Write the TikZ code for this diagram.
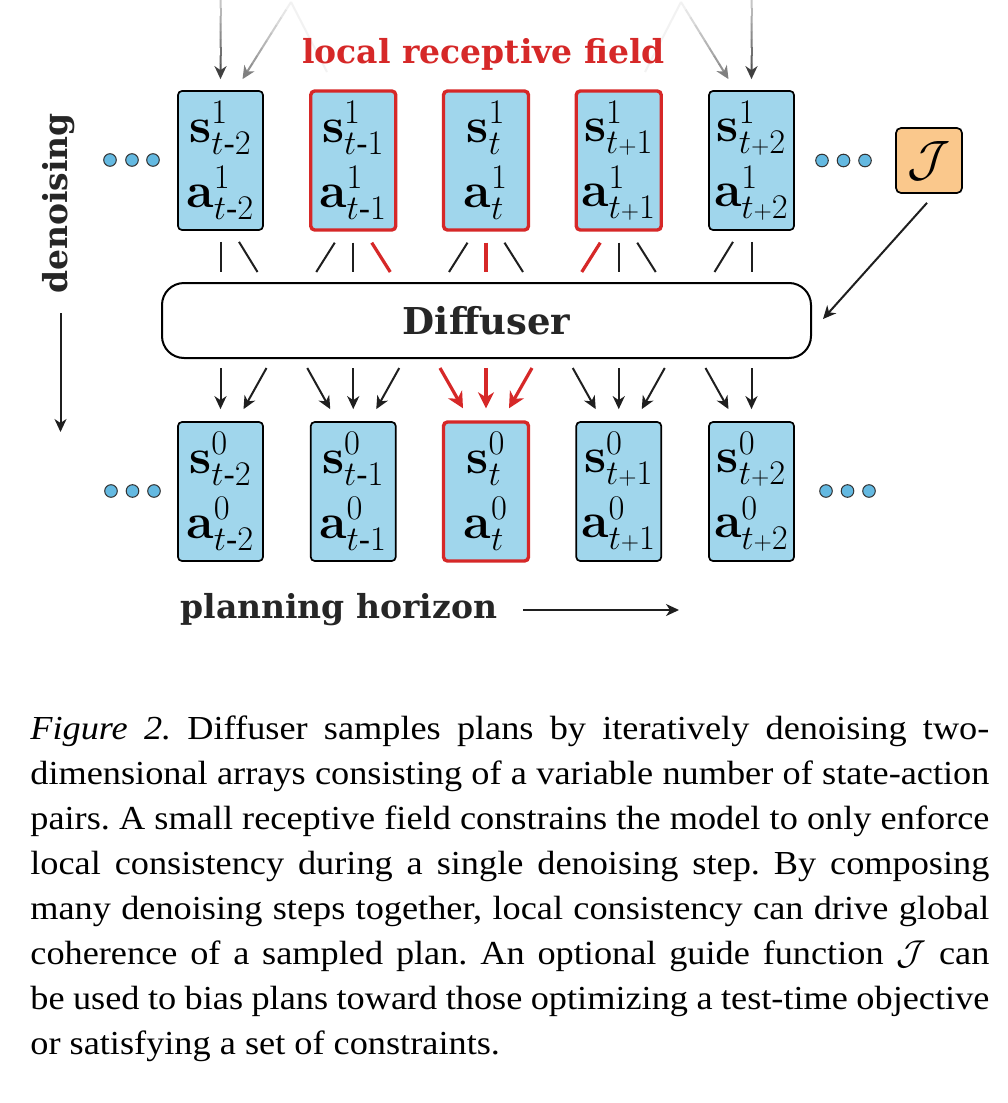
\documentclass[tikz,border=0pt]{standalone}
\usepackage{amsmath}
\usepackage[no-math]{fontspec}
\setmainfont{Liberation Serif}
\newfontfamily\capfont[FakeStretch=1.08]{Liberation Serif}
\newfontfamily\lblfont{DejaVu Serif}
\usetikzlibrary{arrows.meta,calc}
\definecolor{boxblue}{RGB}{160,214,236}
\definecolor{redc}{RGB}{214,40,40}
\definecolor{jorange}{RGB}{250,200,140}
\definecolor{dotblue}{RGB}{100,185,225}
\newcommand\fadearrow[4]{%
  \foreach \k in {0,...,8}{%
    \pgfmathsetmacro\fa{\k/10}%
    \pgfmathsetmacro\fb{(\k+1)/10+0.005}%
    \pgfmathsetmacro\fc{#3+(#4-#3)*(\k+0.5)/10}%
    \draw[line width=1pt, draw=black!\fc] ($(#1)!\fa!(#2)$) -- ($(#1)!\fb!(#2)$);%
  }%
  \draw[line width=1pt, draw=black!#4, -{Stealth[length=6.5pt,width=6pt,inset=2pt]}] ($(#1)!0.9!(#2)$) -- (#2);%
}
\begin{document}
\begin{tikzpicture}[x=0.5pt,y=-0.5pt,
  cell/.style={draw=black, line width=0.85pt, fill=boxblue, rounded corners=2pt,
    minimum width=42.5pt, minimum height=69.5pt, inner sep=0pt, align=center,
    font=\fontsize{24}{32.5}\selectfont},
  redcell/.style={draw=redc, line width=1.7pt},
  dot/.style={circle, draw=black!80, line width=0.5pt, fill=dotblue, minimum size=6.3pt, inner sep=0pt},
  lbl/.style={font=\lblfont\bfseries\fontsize{16.5}{20}\selectfont, text=black!85, inner sep=0pt},
  ln/.style={line width=1pt, draw=black!88},
  redln/.style={line width=1.6pt, draw=redc},
  arr/.style={line width=1pt, draw=black!88, -{Stealth[length=6.5pt,width=6pt,inset=2pt]}},
  redarr/.style={line width=1.6pt, draw=redc, -{Stealth[length=8pt,width=8pt,inset=2.5pt]}},
  capline/.style={anchor=base west, inner sep=0pt, font=\capfont\frenchspacing\fontsize{16.8}{22.5}\selectfont}
]
\fill[white] (0,0) rectangle (1007,1103);
\useasboundingbox (0,0) rectangle (1007,1103);

% ---------- top row (denoising step 1)
\node[cell] (t1) at (220.5,160.5) {$\mathbf{s}^{1}_{t\text{-}2}$\\$\mathbf{a}^{1}_{t\text{-}2}$};
\node[cell,redcell] (t2) at (353.25,160.5) {$\mathbf{s}^{1}_{t\text{-}1}$\\$\mathbf{a}^{1}_{t\text{-}1}$};
\node[cell,redcell] (t3) at (486,160.5) {$\mathbf{s}^{1}_{t}$\\$\mathbf{a}^{1}_{t}$};
\node[cell,redcell] (t4) at (618.75,160.5) {$\mathbf{s}^{1}_{t{\scriptscriptstyle+}1}$\\$\mathbf{a}^{1}_{t{\scriptscriptstyle+}1}$};
\node[cell] (t5) at (751.5,160.5) {$\mathbf{s}^{1}_{t{\scriptscriptstyle+}2}$\\$\mathbf{a}^{1}_{t{\scriptscriptstyle+}2}$};

% ---------- bottom row (step 0)
\node[cell] (b1) at (220.5,491.5) {$\mathbf{s}^{0}_{t\text{-}2}$\\$\mathbf{a}^{0}_{t\text{-}2}$};
\node[cell] (b2) at (353.25,491.5) {$\mathbf{s}^{0}_{t\text{-}1}$\\$\mathbf{a}^{0}_{t\text{-}1}$};
\node[cell,redcell] (b3) at (486,491.5) {$\mathbf{s}^{0}_{t}$\\$\mathbf{a}^{0}_{t}$};
\node[cell] (b4) at (618.75,491.5) {$\mathbf{s}^{0}_{t{\scriptscriptstyle+}1}$\\$\mathbf{a}^{0}_{t{\scriptscriptstyle+}1}$};
\node[cell] (b5) at (751.5,491.5) {$\mathbf{s}^{0}_{t{\scriptscriptstyle+}2}$\\$\mathbf{a}^{0}_{t{\scriptscriptstyle+}2}$};

% ---------- dots
\node[dot] (dtl1) at (110,160) {};
\node[dot] (dtl2) at (132,160) {};
\node[dot] (dtl3) at (153,160) {};
\node[dot] (dtr1) at (822,160.5) {};
\node[dot] (dtr2) at (843.5,160.5) {};
\node[dot] (dtr3) at (865,160.5) {};
\node[dot] (dbl1) at (111,491) {};
\node[dot] (dbl2) at (132.5,491) {};
\node[dot] (dbl3) at (154,491) {};
\node[dot] (dbr1) at (826,491) {};
\node[dot] (dbr2) at (847.5,491) {};
\node[dot] (dbr3) at (869,491) {};

% ---------- guide J
\node[draw=black, line width=0.85pt, fill=jorange, rounded corners=2.5pt,
  minimum width=33pt, minimum height=32.5pt, inner sep=0pt,
  font=\fontsize{24}{28}\selectfont] (J) at (929,160.5) {$\mathcal{J}$};

% ---------- Diffuser
\node[draw=black, line width=1pt, rounded corners=11pt, minimum width=324.5pt,
  minimum height=37.5pt, inner sep=0pt,
  font=\lblfont\bfseries\fontsize{18.5}{22}\selectfont, text=black!85] (D) at (486.5,320.5) {Diffuser};

\draw[arr] ($(J.south)+(-2,9)$) -- ($(D.east)+(11,-1.5)$);

% ---------- lines from top row into Diffuser
\draw[ln] ($(t1.south)+(0,11)$) -- ($(t1.south |- D.north)+(0,-10)$);
\draw[ln] ($(t1.south)+(18.5,11)$) -- ($(t1.south |- D.north)+(37,-10)$);
\draw[ln] ($(t2.south)+(-18.5,11)$) -- ($(t2.south |- D.north)+(-37,-10)$);
\draw[ln] ($(t2.south)+(0,11)$) -- ($(t2.south |- D.north)+(0,-10)$);
\draw[redln] ($(t2.south)+(18.5,11)$) -- ($(t2.south |- D.north)+(37,-10)$);
\draw[ln] ($(t3.south)+(-18.5,11)$) -- ($(t3.south |- D.north)+(-37,-10)$);
\draw[redln] ($(t3.south)+(0,11)$) -- ($(t3.south |- D.north)+(0,-10)$);
\draw[ln] ($(t3.south)+(18.5,11)$) -- ($(t3.south |- D.north)+(37,-10)$);
\draw[redln] ($(t4.south)+(-18.5,11)$) -- ($(t4.south |- D.north)+(-37,-10)$);
\draw[ln] ($(t4.south)+(0,11)$) -- ($(t4.south |- D.north)+(0,-10)$);
\draw[ln] ($(t4.south)+(18.5,11)$) -- ($(t4.south |- D.north)+(37,-10)$);
\draw[ln] ($(t5.south)+(-18.5,11)$) -- ($(t5.south |- D.north)+(-37,-10)$);
\draw[ln] ($(t5.south)+(0,11)$) -- ($(t5.south |- D.north)+(0,-10)$);

% ---------- arrows from Diffuser to bottom row
\draw[arr] ($(b1.north |- D.south)+(0,9)$) -- ($(b1.north)+(0,-12)$);
\draw[arr] ($(b1.north |- D.south)+(46,9)$) -- ($(b1.north)+(23,-12)$);
\draw[arr] ($(b2.north |- D.south)+(-46,9)$) -- ($(b2.north)+(-23,-12)$);
\draw[arr] ($(b2.north |- D.south)+(0,9)$) -- ($(b2.north)+(0,-12)$);
\draw[arr] ($(b2.north |- D.south)+(46,9)$) -- ($(b2.north)+(23,-12)$);
\draw[redarr] ($(b3.north |- D.south)+(-46,9)$) -- ($(b3.north)+(-23,-12)$);
\draw[redarr] ($(b3.north |- D.south)+(0,9)$) -- ($(b3.north)+(0,-12)$);
\draw[redarr] ($(b3.north |- D.south)+(46,9)$) -- ($(b3.north)+(23,-12)$);
\draw[arr] ($(b4.north |- D.south)+(-46,9)$) -- ($(b4.north)+(-23,-12)$);
\draw[arr] ($(b4.north |- D.south)+(0,9)$) -- ($(b4.north)+(0,-12)$);
\draw[arr] ($(b4.north |- D.south)+(46,9)$) -- ($(b4.north)+(23,-12)$);
\draw[arr] ($(b5.north |- D.south)+(-46,9)$) -- ($(b5.north)+(-23,-12)$);
\draw[arr] ($(b5.north |- D.south)+(0,9)$) -- ($(b5.north)+(0,-12)$);

% ---------- faded incoming arrows at the top
\coordinate (g1s) at (220.5,0);
\coordinate (g1e) at ($(t1.north)+(0,-11)$);
\coordinate (g2s) at (291,2);
\coordinate (g2e) at ($(t1.north)+(22,-11)$);
\coordinate (g3e) at (327,72);
\coordinate (g4s) at (751.5,0);
\coordinate (g4e) at ($(t5.north)+(0,-11)$);
\coordinate (g5s) at (681,2);
\coordinate (g5e) at ($(t5.north)+(-23,-11)$);
\coordinate (g6e) at (645,72);
\fadearrow{g1s}{g1e}{20}{75}
\fadearrow{g2s}{g2e}{3}{50}
\fadearrow{g4s}{g4e}{20}{75}
\fadearrow{g5s}{g5e}{3}{50}
\draw[line width=1pt, draw=black!5] (g2s) -- (g3e);
\draw[line width=1pt, draw=black!5] (g5s) -- (g6e);

% ---------- labels
\node[lbl, text=redc, anchor=base] (lrf) at (483.5,63) {local receptive field};
\node[lbl, rotate=90, anchor=base] (den) at (68,203.5) {denoising};
\coordinate (dn1) at (60.5,313);
\coordinate (dn2) at (60.5,432);
\draw[arr] (dn1) -- (dn2);
\node[lbl, anchor=base west] (ph) at (180,618) {planning horizon};
\coordinate (ph1) at (523,610);
\coordinate (ph2) at (679,610);
\draw[arr] (ph1) -- (ph2);

% ---------- caption
\node[capline] (c1) at (30,739) {\makebox[479.5pt][s]{\textit{Figure 2.} Diffuser samples plans by iteratively denoising two-}};
\node[capline] (c2) at (30,784) {\makebox[479.5pt][s]{dimensional arrays consisting of a variable number of state-action}};
\node[capline] (c3) at (30,829) {\makebox[479.5pt][s]{pairs. A small receptive field constrains the model to only enforce}};
\node[capline] (c4) at (30,874) {\makebox[479.5pt][s]{local consistency during a single denoising step. By composing}};
\node[capline] (c5) at (30,919) {\makebox[479.5pt][s]{many denoising steps together, local consistency can drive global}};
\node[capline] (c6) at (30,964) {\makebox[479.5pt][s]{coherence of a sampled plan. An optional guide function $\mathcal{J}$ can}};
\node[capline] (c7) at (30,1009) {\makebox[479.5pt][s]{be used to bias plans toward those optimizing a test-time objective}};
\node[capline] (c8) at (30,1054) {or satisfying a set of constraints.};
\end{tikzpicture}
\end{document}
